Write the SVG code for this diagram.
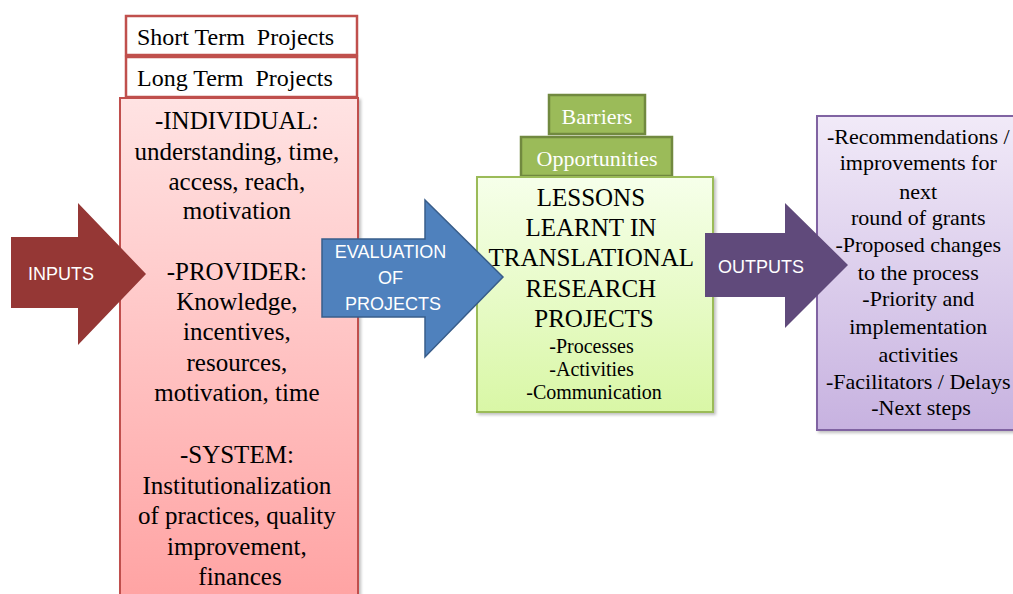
<svg xmlns="http://www.w3.org/2000/svg" width="1013" height="594" viewBox="0 0 1013 594">
<defs>
<linearGradient id="gPink" x1="0" y1="0" x2="0" y2="1">
<stop offset="0" stop-color="#FFE3E3"/>
<stop offset="1" stop-color="#FFA2A2"/>
</linearGradient>
<linearGradient id="gGreen" x1="0" y1="0" x2="0" y2="1">
<stop offset="0" stop-color="#F6FFEA"/>
<stop offset="1" stop-color="#D9F7A6"/>
</linearGradient>
<linearGradient id="gPurple" x1="0" y1="0" x2="0" y2="1">
<stop offset="0" stop-color="#F1EAF8"/>
<stop offset="1" stop-color="#C7B2E0"/>
</linearGradient>
<filter id="sh" x="-10%" y="-10%" width="130%" height="130%">
<feDropShadow dx="2" dy="2" stdDeviation="1.5" flood-color="#000" flood-opacity="0.25"/>
</filter>
</defs>
<style>
.serif{font-family:"Liberation Serif","Times New Roman",serif;fill:#000;}
.sans{font-family:"Liberation Sans",Arial,sans-serif;fill:#fff;}
.c{text-anchor:middle;}
.tag{fill:#fff;stroke:#C0504D;stroke-width:2.5;}
.green{fill:#9BBB59;stroke:#71893F;stroke-width:2.5;}
</style>
<rect width="1013" height="594" fill="#fff"/>

<g id="short-term">
<rect class="tag" x="126" y="16" width="231" height="39"/>
<text class="serif" x="137" y="45" font-size="24" style="white-space:pre">Short Term  Projects</text>
</g>
<g id="long-term">
<rect class="tag" x="126" y="57" width="231" height="40"/>
<text class="serif" x="137" y="86" font-size="24" style="white-space:pre">Long Term  Projects</text>
</g>
<g id="factors">
<rect x="120" y="98" width="238" height="510" fill="url(#gPink)" stroke="#C0504D" stroke-width="2" filter="url(#sh)"/>
<text class="serif c" font-size="25">
<tspan x="240" y="129">-INDIVIDUAL:</tspan>
<tspan x="240" y="160">understanding, time,</tspan>
<tspan x="240" y="190">access, reach,</tspan>
<tspan x="240" y="219">motivation</tspan>
<tspan x="240" y="280">-PROVIDER:</tspan>
<tspan x="240" y="310">Knowledge,</tspan>
<tspan x="240" y="340">incentives,</tspan>
<tspan x="240" y="371">resources,</tspan>
<tspan x="240" y="401">motivation, time</tspan>
<tspan x="240" y="463">-SYSTEM:</tspan>
<tspan x="240" y="494">Institutionalization</tspan>
<tspan x="240" y="524">of practices, quality</tspan>
<tspan x="240" y="555">improvement,</tspan>
<tspan x="240" y="585">finances</tspan>
</text>
</g>

<g id="barriers">
<rect class="green" x="549" y="95" width="96" height="39"/>
<text class="serif c" x="597" y="124" font-size="22" style="fill:#fff">Barriers</text>
</g>
<g id="opportunities">
<rect class="green" x="521" y="137" width="151" height="39"/>
<text class="serif c" x="597" y="166" font-size="22" style="fill:#fff">Opportunities</text>
</g>
<g id="lessons">
<rect x="477" y="177" width="236" height="235" fill="url(#gGreen)" stroke="#9BBB59" stroke-width="2" filter="url(#sh)"/>
</g>

<g id="purple-outputs">
<rect x="817" y="116" width="210" height="314" fill="url(#gPurple)" stroke="#8064A2" stroke-width="2" filter="url(#sh)"/>
<text class="serif c" font-size="22">
<tspan x="921" y="144">-Recommendations  /</tspan>
<tspan x="921" y="170">improvements  for</tspan>
<tspan x="921" y="199">next</tspan>
<tspan x="921" y="225">round of grants</tspan>
<tspan x="921" y="252">-Proposed changes</tspan>
<tspan x="921" y="280">to the process</tspan>
<tspan x="921" y="306">-Priority and</tspan>
<tspan x="921" y="334">implementation</tspan>
<tspan x="921" y="362">activities</tspan>
<tspan x="921" y="389">-Facilitators / Delays</tspan>
<tspan x="921" y="415">-Next steps</tspan>
</text>
</g>

<g id="connectors">
<g id="inputs-arrow">
<polygon points="11,237 78,237 78,203 146,274 78,345 78,308 11,308" fill="#953735"/>
<text class="sans c" x="61" y="280" font-size="18">INPUTS</text>
</g>
<g id="evaluation-arrow">
<polygon points="322,239 425,239 425,200 503,277 425,357 425,317 322,317" fill="#4F81BD" stroke="#385D8A" stroke-width="1.5"/>
<text class="sans c" font-size="18">
<tspan x="393" y="258">EVALUATION</tspan>
<tspan x="393" y="284">OF</tspan>
<tspan x="393" y="310">PROJECTS</tspan>
</text>
</g>
<g id="outputs-arrow">
<polygon points="705,233 785,233 785,203 848,265 785,328 785,297 705,297" fill="#604A7B"/>
<text class="sans c" x="761" y="273" font-size="18">OUTPUTS</text>
</g>
</g>

<g id="lessons-text">
<text class="serif c" font-size="25">
<tspan x="594" y="206">LESSONS</tspan>
<tspan x="594" y="236">LEARNT IN</tspan>
<tspan x="594" y="266">TRANSLATIONAL</tspan>
<tspan x="594" y="297">RESEARCH</tspan>
<tspan x="594" y="327">PROJECTS</tspan>
</text>
<text class="serif c" font-size="20">
<tspan x="594" y="353">-Processes</tspan>
<tspan x="594" y="376">-Activities</tspan>
<tspan x="594" y="399">-Communication</tspan>
</text>
</g>
</svg>
